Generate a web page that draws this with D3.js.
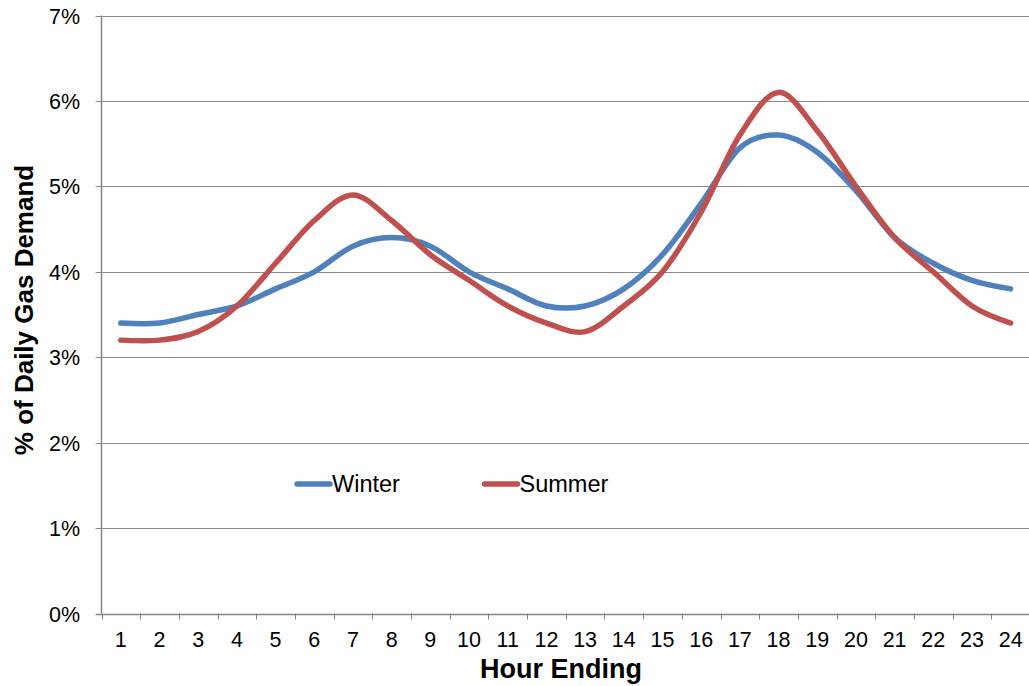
<!DOCTYPE html>
<html>
<head>
<meta charset="utf-8">
<script src="https://cdn.jsdelivr.net/npm/d3@7"></script>
<style>
  body { margin: 0; background: #fff; }
  svg { display: block; font-family: "Liberation Sans", Arial, sans-serif; }
</style>
</head>
<body>
<script>
// Chart data
const hours = d3.range(1, 25);
const winter = [3.4, 3.4, 3.5, 3.6, 3.8, 4.0, 4.3, 4.4, 4.3, 4.0, 3.8, 3.6,
                3.6, 3.8, 4.2, 4.8, 5.45, 5.6, 5.4, 4.95, 4.4, 4.1, 3.9, 3.8];
const summer = [3.2, 3.2, 3.3, 3.6, 4.1, 4.6, 4.9, 4.6, 4.2, 3.9, 3.6, 3.4,
                3.3, 3.6, 4.0, 4.7, 5.6, 6.1, 5.65, 5.0, 4.4, 4.0, 3.6, 3.4];
const yTicks = [0, 1, 2, 3, 4, 5, 6, 7];
const seriesNames = ["Winter", "Summer"];
const seriesColors = ["#4F81BD", "#C0504D"];

const width = 1029, height = 686;
const margin = { top: 15.5, right: 0, bottom: 72.5, left: 101.5 };

const svg = d3.select("body").append("svg")
    .attr("width", width)
    .attr("height", height);

const x = d3.scaleBand()
    .domain(hours)
    .range([margin.left, 1030]);

const y = d3.scaleLinear()
    .domain([0, 7])
    .range([height - margin.bottom, margin.top]);

// gridlines
svg.append("g")
    .selectAll("line")
    .data(yTicks)
    .join("line")
    .attr("x1", margin.left - 6)
    .attr("x2", width)
    .attr("y1", d => Math.round(y(d)) + 0.5)
    .attr("y2", d => Math.round(y(d)) + 0.5)
    .attr("stroke", d => d === 0 ? "#868686" : "#8c8c8c")
    .attr("stroke-width", d => d === 0 ? 1.5 : 1);

// y tick labels
svg.append("g")
    .selectAll("text")
    .data(yTicks)
    .join("text")
    .attr("x", 80)
    .attr("y", d => y(d) + 8)
    .attr("text-anchor", "end")
    .style("font-size", "21.5px")
    .attr("fill", "#000")
    .text(d => d + "%");

// y axis line
svg.append("line")
    .attr("x1", margin.left).attr("x2", margin.left)
    .attr("y1", margin.top).attr("y2", y(0))
    .attr("stroke", "#868686")
    .attr("stroke-width", 1.5);

// x ticks at band boundaries
svg.append("g")
    .selectAll("line")
    .data(hours)
    .join("line")
    .attr("x1", d => Math.round(x(d)) + 0.5)
    .attr("x2", d => Math.round(x(d)) + 0.5)
    .attr("y1", y(0))
    .attr("y2", y(0) + 6)
    .attr("stroke", "#868686")
    .attr("stroke-width", 1);

// x tick labels
svg.append("g")
    .selectAll("text")
    .data(hours)
    .join("text")
    .attr("x", d => x(d) + x.bandwidth() / 2)
    .attr("y", 647)
    .attr("text-anchor", "middle")
    .style("font-size", "21.5px")
    .attr("fill", "#000")
    .text(d => d);

// axis titles
svg.append("text")
    .attr("x", 561)
    .attr("y", 678)
    .attr("text-anchor", "middle")
    .style("font-size", "27px")
    .style("font-weight", "bold")
    .text("Hour Ending");

svg.append("text")
    .attr("transform", "translate(33,310) rotate(-90)")
    .attr("text-anchor", "middle")
    .style("font-size", "26px")
    .style("font-weight", "bold")
    .text("% of Daily Gas Demand");

// lines
const line = d3.line()
    .x((d, i) => x(hours[i]) + x.bandwidth() / 2)
    .y(d => y(d))
    .curve(d3.curveCardinal.tension(0));

[winter, summer].forEach((s, i) => {
    svg.append("path")
        .datum(s)
        .attr("fill", "none")
        .attr("stroke", seriesColors[i])
        .attr("stroke-width", 5.5)
        .attr("stroke-linecap", "round")
        .attr("stroke-linejoin", "round")
        .attr("d", line);
});

// legend
const legend = svg.append("g")
    .selectAll("g")
    .data(seriesNames)
    .join("g")
    .attr("transform", (d, i) => `translate(${297 + i * 187.5},484)`);

legend.append("line")
    .attr("x1", 0).attr("x2", 33)
    .attr("y1", 0).attr("y2", 0)
    .attr("stroke", (d, i) => seriesColors[i])
    .attr("stroke-width", 5.5)
    .attr("stroke-linecap", "round");

legend.append("text")
    .attr("x", 35)
    .attr("y", 8)
    .style("font-size", "23.5px")
    .text(d => d);
</script>
</body>
</html>
